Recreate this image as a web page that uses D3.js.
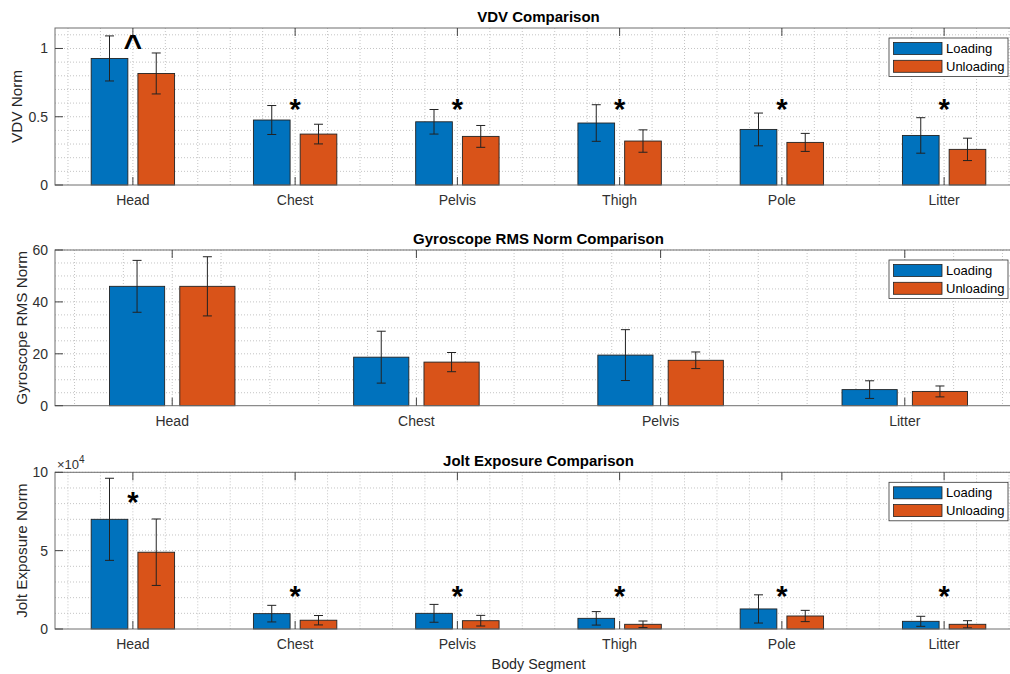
<!DOCTYPE html>
<html>
<head>
<meta charset="utf-8">
<script src="https://cdn.jsdelivr.net/npm/d3@7"></script>
<style>
  body { margin: 0; background: #fff; }
  svg { display: block; font-family: "Liberation Sans", Arial, sans-serif; }
  .tick-label { fill: #303030; font-size: 14px; }
  .title { fill: #000; font-size: 15px; font-weight: bold; }
  .axis-label { fill: #262626; font-size: 15.3px; }
  .legend-text { fill: #000; font-size: 13px; }
  .mark { fill: #000; font-weight: bold; }
</style>
</head>
<body>
<svg width="1010" height="674"></svg>
<script>
// ---- data ----
const seriesNames = ['Loading', 'Unloading'];
const seriesColors = ['#0072BD', '#D95319'];

const vdvCats = ['Head', 'Chest', 'Pelvis', 'Thigh', 'Pole', 'Litter'];
const vdvLoading = [0.927, 0.476, 0.463, 0.454, 0.407, 0.363];
const vdvLoadingErr = [0.165, 0.106, 0.09, 0.134, 0.12, 0.13];
const vdvUnloading = [0.817, 0.373, 0.356, 0.322, 0.312, 0.261];
const vdvUnloadingErr = [0.15, 0.072, 0.08, 0.082, 0.066, 0.082];
const vdvMarks = ['^', '*', '*', '*', '*', '*'];
const vdvMarkY = [1.04, 0.585, 0.585, 0.585, 0.585, 0.585];

const gyroCats = ['Head', 'Chest', 'Pelvis', 'Litter'];
const gyroLoading = [46.0, 18.7, 19.5, 6.2];
const gyroLoadingErr = [10.0, 10.0, 9.8, 3.4];
const gyroUnloading = [46.0, 16.8, 17.5, 5.5];
const gyroUnloadingErr = [11.4, 3.7, 3.2, 2.1];

const joltCats = ['Head', 'Chest', 'Pelvis', 'Thigh', 'Pole', 'Litter'];
const joltLoading = [70000, 9800, 10000, 6800, 12800, 4900];
const joltLoadingErr = [26200, 5300, 5700, 4300, 9000, 3200];
const joltUnloading = [49000, 5600, 5300, 3000, 8300, 3000];
const joltUnloadingErr = [21200, 3000, 3400, 2100, 3600, 2300];
const joltMarks = ['*', '*', '*', '*', '*', '*'];
const joltMarkY = [83600, 23800, 23800, 23800, 23800, 23800];

const svg = d3.select('svg');
const axLeft = 55, axRight = 1022;

const drawPanel = (p) => {
  const n = p.cats.length;
  const x = d3.scaleLinear().domain([0.52, n + 0.48]).range([axLeft, axRight]);
  const y = d3.scaleLinear().domain(p.yDomain).range([p.bottom, p.top]);
  const g = svg.append('g');

  // grid (dotted)
  const vx = d3.range(Math.round(0.6 * 5), Math.round((n + 0.4) * 5) + 1).map(v => v / 5);
  g.selectAll('.vgrid').data(vx).enter().append('line')
    .attr('x1', d => x(d)).attr('x2', d => x(d))
    .attr('y1', p.top).attr('y2', p.bottom)
    .attr('stroke', '#c4c4c4').attr('stroke-dasharray', '1,2');
  const hy = d3.range(1, Math.round(p.yDomain[1] / p.minorStep) + 1).map(v => v * p.minorStep);
  g.selectAll('.hgrid').data(hy).enter().append('line')
    .attr('x1', axLeft).attr('x2', axRight)
    .attr('y1', d => y(d)).attr('y2', d => y(d))
    .attr('stroke', '#c4c4c4').attr('stroke-dasharray', '1,2');

  // bars
  const offsets = [-0.144, 0.144];
  const bw = 0.226;
  p.series.forEach((s, si) => {
    const rows = p.cats.map((c, i) => ({ i: i + 1, v: s.values[i], e: s.err[i] }));
    g.selectAll('.bar' + si).data(rows).enter().append('rect')
      .attr('x', d => x(d.i + offsets[si] - bw / 2))
      .attr('width', x(bw) - x(0))
      .attr('y', d => y(d.v))
      .attr('height', d => y(0) - y(d.v))
      .attr('fill', seriesColors[si])
      .attr('stroke', '#222').attr('stroke-width', 0.9);
    const eb = g.selectAll('.err' + si).data(rows).enter().append('g')
      .attr('stroke', '#222').attr('stroke-width', 1);
    eb.append('line')
      .attr('x1', d => x(d.i + offsets[si])).attr('x2', d => x(d.i + offsets[si]))
      .attr('y1', d => y(d.v + d.e)).attr('y2', d => y(d.v - d.e));
    [1, -1].forEach(sg => {
      eb.append('line')
        .attr('x1', d => x(d.i + offsets[si]) - 4.5).attr('x2', d => x(d.i + offsets[si]) + 4.5)
        .attr('y1', d => y(d.v + sg * d.e)).attr('y2', d => y(d.v + sg * d.e));
    });
  });

  // axes box
  g.append('rect')
    .attr('x', axLeft).attr('y', p.top)
    .attr('width', axRight - axLeft).attr('height', p.bottom - p.top)
    .attr('fill', 'none').attr('stroke', '#6e6e6e').attr('stroke-width', 1);

  // x ticks (bottom and top, inward)
  const xt = d3.range(1, n + 1);
  g.selectAll('.xtb').data(xt).enter().append('line')
    .attr('x1', d => x(d)).attr('x2', d => x(d))
    .attr('y1', p.bottom).attr('y2', p.bottom - 8)
    .attr('stroke', '#444');
  g.selectAll('.xtt').data(xt).enter().append('line')
    .attr('x1', d => x(d)).attr('x2', d => x(d))
    .attr('y1', p.top).attr('y2', p.top + 8)
    .attr('stroke', '#444');
  g.selectAll('.xl').data(p.cats).enter().append('text')
    .attr('class', 'tick-label')
    .attr('x', (d, i) => x(i + 1)).attr('y', p.bottom + 20)
    .attr('text-anchor', 'middle').text(d => d);

  // y ticks
  g.selectAll('.yt').data(p.yTicks).enter().append('line')
    .attr('x1', axLeft).attr('x2', axLeft + 8)
    .attr('y1', d => y(d)).attr('y2', d => y(d))
    .attr('stroke', '#444');
  g.selectAll('.yl').data(p.yTicks).enter().append('text')
    .attr('class', 'tick-label')
    .attr('x', axLeft - 7).attr('y', d => y(d)).attr('dy', '0.35em')
    .attr('text-anchor', 'end').text(p.yFmt);

  // title and y label
  g.append('text').attr('class', 'title')
    .attr('x', (axLeft + axRight) / 2).attr('y', p.top - 6)
    .attr('text-anchor', 'middle').text(p.title);
  g.append('text').attr('class', 'axis-label')
    .attr('transform', `translate(${p.ylabelX}, ${(p.top + p.bottom) / 2}) rotate(-90)`)
    .attr('text-anchor', 'middle').attr('dy', '0.35em').text(p.ylabel);

  if (p.exponent) {
    const t = g.append('text').attr('class', 'tick-label')
      .attr('x', axLeft + 2).attr('y', p.top - 3).style('font-size', '13px');
    t.append('tspan').text('\u00d710');
    t.append('tspan').attr('dy', -6).style('font-size', '10px').text(p.exponent);
  }

  // significance marks
  if (p.marks) {
    g.selectAll('.mk').data(p.marks).enter().append('text')
      .attr('class', 'mark')
      .attr('x', (d, i) => x(i + 1))
      .attr('y', (d, i) => y(p.markY[i]))
      .attr('text-anchor', 'middle')
      .attr('dy', d => d === '^' ? '0.45em' : '0.48em')
      .style('font-size', d => d === '^' ? '32px' : '29px')
      .text(d => d);
  }

  // legend
  const lg = g.append('g').attr('transform', `translate(889, ${p.top + 10})`);
  lg.append('rect').attr('width', 119).attr('height', 38.5)
    .attr('fill', '#fff').attr('stroke', '#333').attr('stroke-width', 0.8);
  seriesNames.forEach((name, i) => {
    lg.append('rect').attr('x', 4.5).attr('y', 4.5 + i * 17.8)
      .attr('width', 48.5).attr('height', 12)
      .attr('fill', seriesColors[i]).attr('stroke', '#222').attr('stroke-width', 0.8);
    lg.append('text').attr('class', 'legend-text')
      .attr('x', 57).attr('y', 10.5 + i * 17.8).attr('dy', '0.35em').text(name);
  });
};

drawPanel({
  top: 28, bottom: 185, cats: vdvCats,
  series: [{ values: vdvLoading, err: vdvLoadingErr }, { values: vdvUnloading, err: vdvUnloadingErr }],
  yDomain: [0, 1.15], yTicks: [0, 0.5, 1], minorStep: 0.1, yFmt: d => String(d),
  title: 'VDV Comparison', ylabel: 'VDV Norm', ylabelX: 17,
  marks: vdvMarks, markY: vdvMarkY
});

drawPanel({
  top: 250, bottom: 405.7, cats: gyroCats,
  series: [{ values: gyroLoading, err: gyroLoadingErr }, { values: gyroUnloading, err: gyroUnloadingErr }],
  yDomain: [0, 60], yTicks: [0, 20, 40, 60], minorStep: 5, yFmt: d => String(d),
  title: 'Gyroscope RMS Norm Comparison', ylabel: 'Gyroscope RMS Norm', ylabelX: 22
});

drawPanel({
  top: 472.3, bottom: 629, cats: joltCats,
  series: [{ values: joltLoading, err: joltLoadingErr }, { values: joltUnloading, err: joltUnloadingErr }],
  yDomain: [0, 100000], yTicks: [0, 50000, 100000], minorStep: 10000, yFmt: d => String(d / 10000),
  title: 'Jolt Exposure Comparison', ylabel: 'Jolt Exposure Norm', ylabelX: 22,
  marks: joltMarks, markY: joltMarkY, exponent: '4'
});

svg.append('text').attr('class', 'axis-label')
  .attr('x', (axLeft + axRight) / 2).attr('y', 669)
  .style('font-size', '14.3px')
  .attr('text-anchor', 'middle').text('Body Segment');
</script>
</body>
</html>
